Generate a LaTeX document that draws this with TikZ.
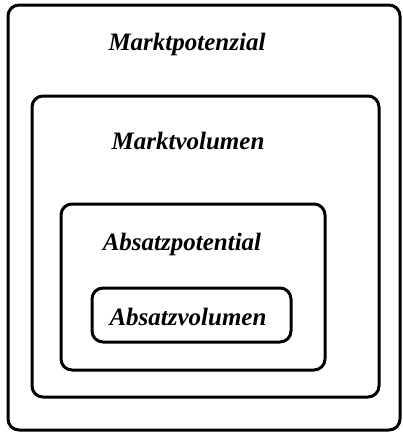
\documentclass[tikz,border=0pt]{standalone}
\usepackage{fontspec}
\setmainfont{Liberation Serif}
\begin{document}
\begin{tikzpicture}[x=1pt,y=-1pt,
  frame/.style={draw=black,line width=3pt,rounded corners=11pt},
  lbl/.style={font=\fontsize{25}{28}\selectfont\bfseries\itshape,inner sep=0pt,anchor=base}]
\useasboundingbox (0,0) rectangle (402,434);
\draw[frame] (8,5) rectangle (400,430);
\draw[frame] (32,96) rectangle (379,397);
\draw[frame] (61,204) rectangle (325,370);
\draw[frame] (92,288) rectangle (291,342);
\node[lbl] (mp) at (187,50) {Marktpotenzial};
\node[lbl] (mv) at (188,149) {Marktvolumen};
\node[lbl] (ap) at (182,250) {Absatzpotential};
\node[lbl] (av) at (188,325) {Absatzvolumen};
\end{tikzpicture}
\end{document}
